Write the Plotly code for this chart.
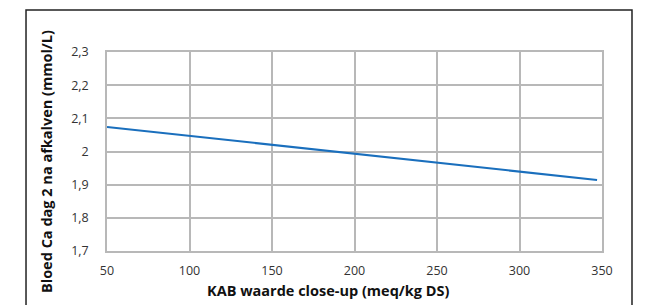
import plotly.graph_objects as go

kab = [50, 347]
ca = [2.074, 1.914]

x_ticks = [50, 100, 150, 200, 250, 300, 350]
y_ticks = [1.7, 1.8, 1.9, 2.0, 2.1, 2.2, 2.3]

x_title = "<b>KAB waarde close-up (meq/kg DS)</b>"
y_title = "<b>Bloed Ca dag 2 na afkalven (mmol/L)</b>"

fig = go.Figure()
fig.add_trace(go.Scatter(x=kab, y=ca, mode="lines",
                         line=dict(color="#1a6fbd", width=2), showlegend=False))

grid = "#b8b8b8"
fig.update_layout(
    width=639, height=297,
    margin=dict(l=99, r=45, t=44, b=54),
    paper_bgcolor="white", plot_bgcolor="white",
    separators=",.",
    font=dict(family="Open Sans", color="#333333", size=12.5),
    xaxis=dict(range=[50, 350], tickvals=x_ticks, showgrid=True, gridcolor=grid,
               gridwidth=1.5, showline=True, mirror=True, linecolor=grid, linewidth=1.5,
               ticks="", zeroline=False, ticklabelstandoff=7),
    yaxis=dict(range=[1.7, 2.3], tickvals=y_ticks, showgrid=True, gridcolor=grid,
               gridwidth=1.5, showline=True, mirror=True, linecolor=grid, linewidth=1.5,
               ticks="", zeroline=False, ticklabelstandoff=14),
    annotations=[
        dict(text=x_title, xref="paper", yref="paper", x=0.4465, y=-0.201,
             xanchor="center", yanchor="middle", showarrow=False,
             font=dict(size=14.5, color="#111111")),
        dict(text=y_title, xref="paper", yref="paper", x=-0.1222, y=0.4497,
             xanchor="center", yanchor="middle", showarrow=False, textangle=-90,
             font=dict(size=14.5, color="#111111")),
    ],
    shapes=[dict(type="rect", xref="paper", yref="paper",
                 x0=-0.1636, x1=1.0606, y0=-0.35, y1=1.211,
                 line=dict(color="#222222", width=1.5), layer="below")],
)

fig.write_html("out.html")
